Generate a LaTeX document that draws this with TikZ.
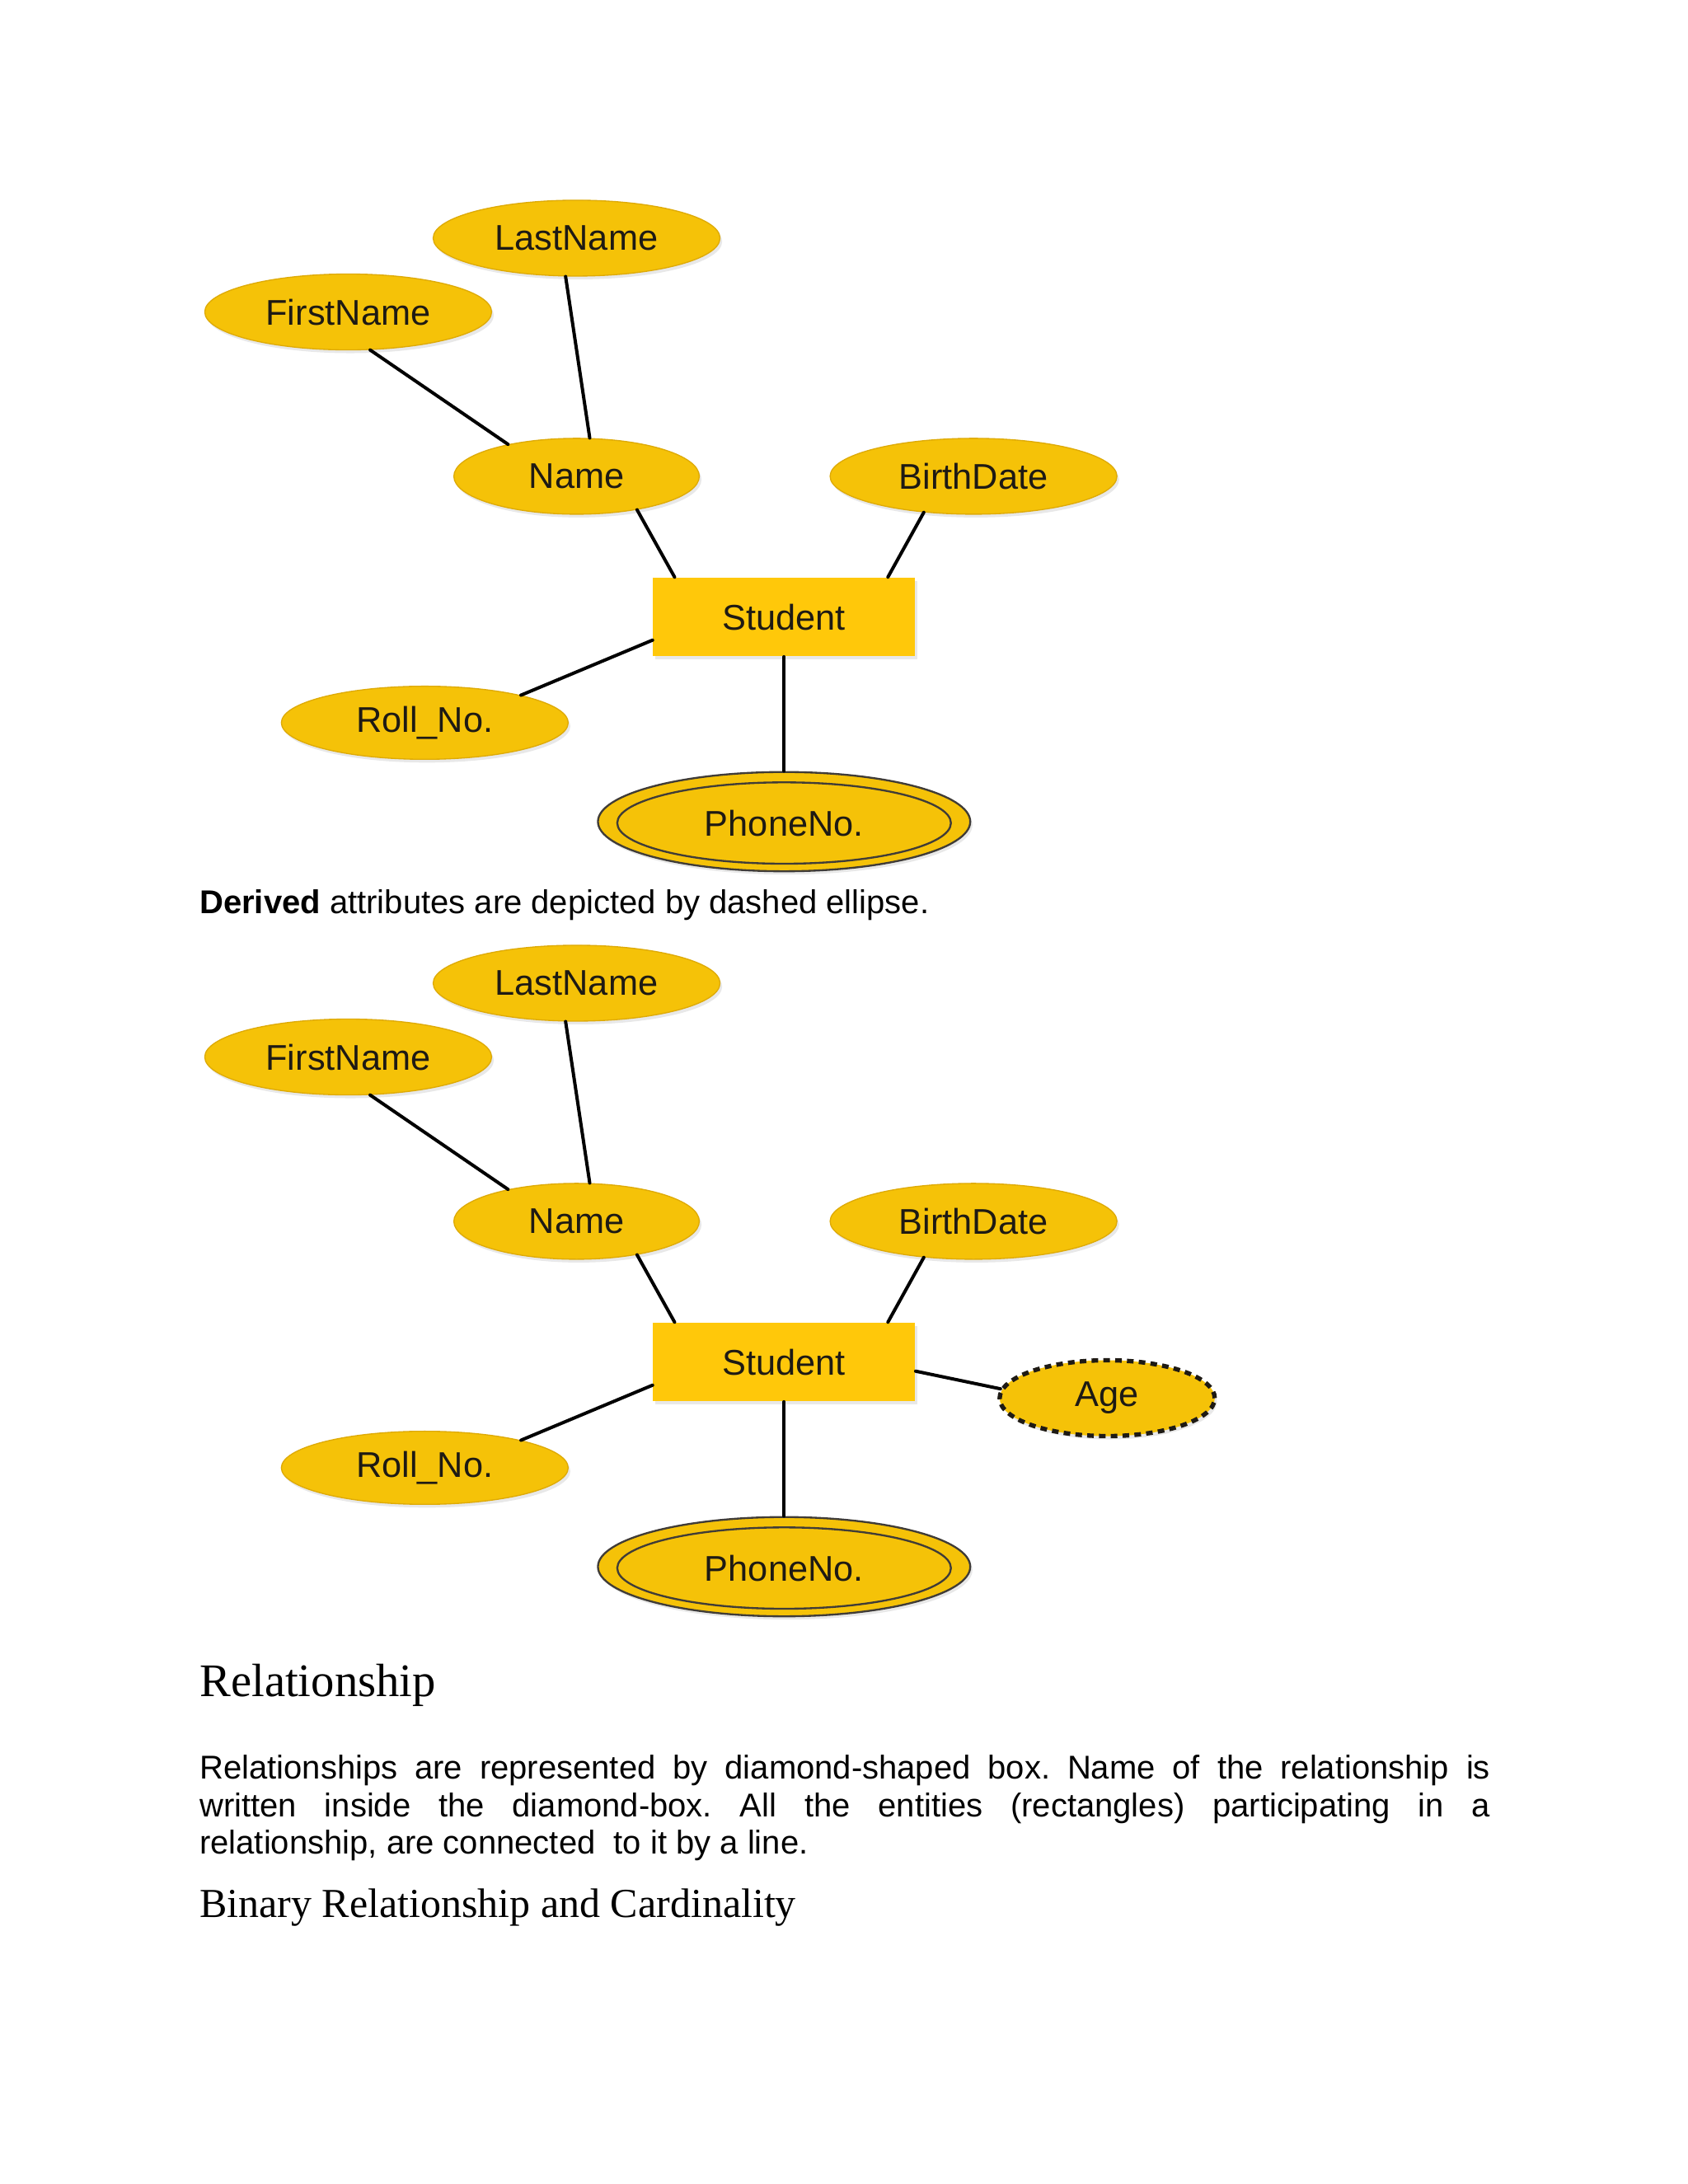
\documentclass[tikz,border=0pt]{standalone}
\usepackage{fontspec}
\setmainfont{Liberation Serif}
\setsansfont{Liberation Sans}
\usetikzlibrary{shapes.geometric,shadows}
\definecolor{attrgold}{RGB}{245,194,8}
\definecolor{attredge}{RGB}{222,170,6}
\definecolor{entgold}{RGB}{255,200,10}
\definecolor{labelink}{RGB}{30,26,20}
\begin{document}
\begin{tikzpicture}[x=0.505bp, y=-0.505bp, line join=round, line cap=round,
	lbl/.style={font=\sffamily\fontsize{13}{15}\selectfont, text=labelink},
	attr/.style={ellipse, lbl, fill=attrgold, draw=attredge, line width=0.4pt, inner sep=0pt,
		minimum height=27.5bp, drop shadow={opacity=0.18, shadow xshift=0.8pt, shadow yshift=-1.2pt}},
	entity/.style={rectangle, lbl, fill=entgold, inner sep=0pt, minimum width=95bp, minimum height=28.5bp,
		drop shadow={opacity=0.18, shadow xshift=0.8pt, shadow yshift=-1.2pt}},
	multi/.style={ellipse, fill=attrgold, draw=labelink!85, line width=0.7pt, inner sep=0pt},
	derived/.style={attr, draw=labelink, line width=1.6pt, dash pattern=on 2.4pt off 1.9pt, line cap=butt},
	link/.style={draw=black, line width=1.2pt},
	body/.style={font=\sffamily\fontsize{12}{13.6}\selectfont, inner sep=0pt}]
	\def\pw{1212}
	\def\ph{1568.3}
	\useasboundingbox (0,0) rectangle (\pw,\ph);
	\fill[white] (0,0) rectangle (\pw,\ph);
	\foreach \dy/\p in {0/a,535/b}{
		\node[attr, minimum width=104bp] (\p-last) at (414,{171+\dy}) {LastName};
		\node[attr, minimum width=104bp] (\p-first) at (250,{224+\dy}) {FirstName};
		\node[attr, minimum width=89bp] (\p-name) at (414,{342+\dy}) {Name};
		\node[attr, minimum width=104bp] (\p-birth) at (699,{342+\dy}) {BirthDate};
		\node[entity] (\p-stud) at (563,{443+\dy}) {Student};
		\node[attr, minimum width=104bp, minimum height=26.5bp] (\p-roll) at (305,{519+\dy}) {Roll\_No.};
		\node[multi, minimum width=135bp, minimum height=36bp,
			drop shadow={opacity=0.18, shadow xshift=0.8pt, shadow yshift=-1.2pt}] (\p-phone) at (563,{590+\dy}) {};
		\node[multi, lbl, minimum width=121bp, minimum height=29.5bp] (\p-phonein) at (563,{591+\dy}) {PhoneNo.};
		\draw[link] (\p-first.-60) -- (\p-name.155);
		\draw[link] (\p-last.-106) -- (\p-name.71);
		\draw[link] (\p-name.-29) -- (\p-stud.160);
		\draw[link] (\p-birth.-144) -- (\p-stud.21);
		\draw[link] (\p-stud.190) -- (\p-roll.16);
		\draw[link] (\p-stud.south) -- (\p-phone.north);
	}
	\node[derived, minimum width=78bp] (b-age) at (795,1004) {Age};
	\draw[link] (b-stud.-4) -- (b-age.175);
	% text of the page
	\node[body, anchor=base west] (derivednote) at (143,656) {\textbf{Derived} attributes are depicted by dashed ellipse.};
	\node[anchor=base west, inner sep=0pt, font=\fontsize{17}{20}\selectfont] (relhead) at (143,1218) {Relationship};
	\node[body, anchor=north west, text width=468bp, align=justify] (relpara) at (143,1260)
		{\frenchspacing\hyphenpenalty=10000 Relationships are represented by diamond-shaped box. Name of the relationship is\linebreak
		written inside the diamond-box. All the entities (rectangles) participating in a\linebreak
		relationship, are connected\ \ to it by a line.};
	\node[anchor=base west, inner sep=0pt, font=\fontsize{15}{18}\selectfont] (binhead) at (143,1377) {Binary Relationship and Cardinality};
\end{tikzpicture}
\end{document}
